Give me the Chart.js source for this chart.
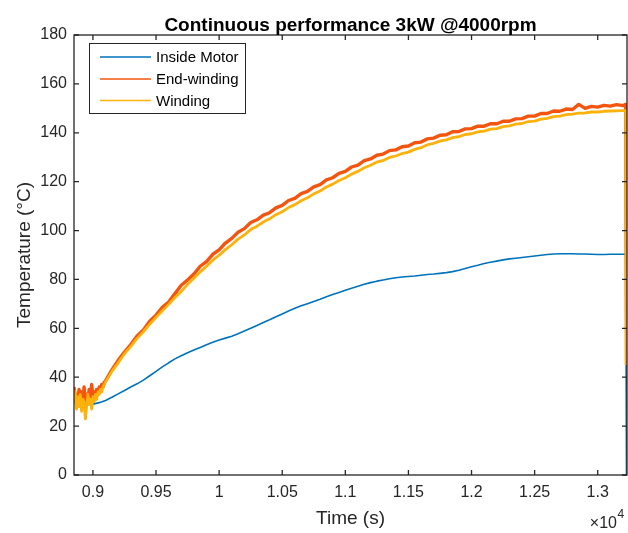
<!DOCTYPE html>
<html>
<head>
<meta charset="utf-8">
<script src="https://cdn.jsdelivr.net/npm/chart.js@4.4.1/dist/chart.umd.min.js"></script>
<style>
  html, body { margin: 0; padding: 0; background: #ffffff; }
  #wrap { width: 628px; height: 533px; }
</style>
</head>
<body>
<div id="wrap"><canvas id="c" width="628" height="533"></canvas></div>
<script>
// ---------------- DATA ----------------
const chartTitle = 'Continuous performance 3kW @4000rpm';
const xAxisTitle = 'Time (s)';
const yAxisTitle = 'Temperature (°C)';
const seriesNames = ['Inside Motor', 'End-winding', 'Winding'];

const xTickValues = [9000, 9500, 10000, 10500, 11000, 11500, 12000, 12500, 13000];
const xTickLabels = ['0.9', '0.95', '1', '1.05', '1.1', '1.15', '1.2', '1.25', '1.3'];
const yTickValues = [0, 20, 40, 60, 80, 100, 120, 140, 160, 180];
const yTickLabels = ['0', '20', '40', '60', '80', '100', '120', '140', '160', '180'];

// time (s) for winding sensors
const timeWinding = [
  8850, 8860, 8870, 8880, 8890, 8900, 8910, 8920, 8930, 8940, 8950, 8960, 8970, 8980, 8990,
  9000, 9010, 9020, 9030, 9040, 9050, 9060, 9070, 9080, 9090, 9100,
  9150, 9200, 9250, 9300, 9350, 9400, 9450, 9500, 9550, 9600, 9650, 9700, 9750, 9800, 9850, 9900, 9950,
  10000, 10050, 10100, 10150, 10200, 10250, 10300, 10350, 10400, 10450, 10500, 10550, 10600, 10650, 10700, 10750, 10800, 10850, 10900, 10950,
  11000, 11050, 11100, 11150, 11200, 11250, 11300, 11350, 11400, 11450, 11500, 11550, 11600, 11650, 11700, 11750, 11800, 11850, 11900, 11950,
  12000, 12050, 12100, 12150, 12200, 12250, 12300, 12350, 12400, 12450, 12500, 12550, 12600, 12650, 12700, 12750, 12800, 12850, 12900, 12950,
  13000, 13050, 13100, 13150, 13200, 13222, 13228
];
const endWinding = [
  36, 30, 33, 29, 35, 31, 34, 30, 36, 29, 33, 30, 35, 31, 37,
  32, 34, 31, 35, 33, 36, 34, 37, 36, 38, 38.5,
  43.0, 46.9, 50.3, 53.4, 56.9, 59.3, 62.9, 65.4, 68.6, 70.8, 74.2, 77.6, 79.8, 82.2, 85.4, 87.3, 90.3,
  92.1, 94.9, 96.8, 99.3, 100.8, 103.3, 104.4, 106.3, 107.3, 109.3, 110.3, 112.3, 113.2, 115.1, 116.0, 117.9, 118.8, 120.7, 121.6, 123.4,
  124.2, 126.0, 126.8, 128.6, 129.3, 130.8, 131.3, 132.7, 133.0, 134.3, 134.6, 135.9, 136.2, 137.5, 137.8, 139.0, 139.2, 140.4, 140.5, 141.6,
  141.7, 142.7, 142.7, 143.7, 143.7, 144.7, 144.7, 145.7, 145.8, 146.8, 146.8, 147.9, 147.9, 148.9, 148.8, 149.7, 149.5, 151.6, 150.0, 150.8,
  150.5, 151.2, 150.9, 151.5, 151.1, 151.6, 45
];
const winding = [
  29, 34, 27, 32, 28, 33, 26, 31, 30, 23, 28, 33, 29, 31, 27,
  32, 30, 33, 31, 34, 33, 35, 34, 36, 37, 38,
  42.4, 45.9, 49.6, 52.6, 55.9, 58.6, 61.7, 64.5, 67.2, 69.8, 72.6, 75.1, 78.0, 80.5, 83.1, 85.4, 87.9,
  89.9, 92.2, 94.2, 96.5, 98.2, 100.4, 101.8, 103.5, 104.8, 106.5, 107.7, 109.4, 110.6, 112.2, 113.4, 115.0, 116.2, 117.8, 119.0, 120.5,
  121.6, 123.1, 124.2, 125.7, 126.7, 128.0, 128.7, 129.9, 130.5, 131.5, 132.1, 133.2, 133.9, 135.1, 135.7, 136.6, 137.1, 138.0, 138.4, 139.3,
  139.6, 140.4, 140.7, 141.5, 141.7, 142.5, 142.8, 143.5, 143.8, 144.6, 144.8, 145.6, 145.9, 146.6, 146.8, 147.4, 147.6, 148.0, 148.1, 148.5,
  148.5, 148.8, 148.9, 149.0, 149.1, 149.1, 45
];

// time (s) for inside motor sensor
const timeMotor = [
  8850, 8900, 8950, 9000, 9050, 9100, 9150, 9200, 9250, 9300, 9350, 9400, 9450, 9500, 9550, 9600, 9650, 9700, 9750, 9800, 9850, 9900, 9950,
  10000, 10050, 10100, 10150, 10200, 10250, 10300, 10350, 10400, 10450, 10500, 10550, 10600, 10650, 10700, 10750, 10800, 10850, 10900, 10950,
  11000, 11050, 11100, 11150, 11200, 11250, 11300, 11350, 11400, 11450, 11500, 11550, 11600, 11650, 11700, 11750, 11800, 11850, 11900, 11950,
  12000, 12050, 12100, 12150, 12200, 12250, 12300, 12350, 12400, 12450, 12500, 12550, 12600, 12650, 12700, 12750, 12800, 12850, 12900, 12950,
  13000, 13050, 13100, 13150, 13200, 13222, 13228
];
const insideMotor = [
  29.5, 29, 28.8, 29, 29.6, 30.5, 31.8, 33.2, 34.6, 36, 37.3, 38.8, 40.6, 42.4, 44.2, 45.9, 47.5, 48.8, 50, 51.1, 52.2, 53.3, 54.3,
  55.2, 56, 56.8, 57.8, 58.9, 60, 61.2, 62.4, 63.5, 64.7, 65.9, 67.1, 68.2, 69.2, 70.1, 71, 71.9, 72.9, 73.8, 74.7,
  75.6, 76.4, 77.2, 78, 78.7, 79.3, 79.8, 80.3, 80.7, 81, 81.2, 81.4, 81.7, 82, 82.2, 82.5, 82.8, 83.2, 83.8, 84.5,
  85.2, 85.8, 86.5, 87, 87.5, 88, 88.4, 88.7, 89, 89.3, 89.6, 89.9, 90.2, 90.4, 90.5, 90.5, 90.5, 90.4, 90.4, 90.3,
  90.2, 90.2, 90.3, 90.3, 90.3, 90.3, 0
];

// ---------------- STYLE ----------------
const FONT = "'Liberation Sans', Arial, Helvetica, sans-serif";
const AXIS_COLOR = '#262626';
const colors = ['#0072BD', '#F4540E', '#FDB10B'];

function pts(xs, ys) { return xs.map((x, i) => ({ x: x, y: ys[i] })); }

const matlabPlugin = {
  id: 'matlabAxes',
  afterDatasetsDraw(chart) {
    const ctx = chart.ctx;
    const a = chart.chartArea;
    const xs = chart.scales.x, ys = chart.scales.y;
    ctx.save();
    // box
    ctx.strokeStyle = AXIS_COLOR;
    ctx.lineWidth = 1.3;
    ctx.strokeRect(a.left, a.top, a.right - a.left, a.bottom - a.top);
    // inward ticks
    const tl = 5;
    ctx.beginPath();
    xTickValues.forEach(v => {
      const px = xs.getPixelForValue(v);
      ctx.moveTo(px, a.bottom); ctx.lineTo(px, a.bottom - tl);
      ctx.moveTo(px, a.top); ctx.lineTo(px, a.top + tl);
    });
    yTickValues.forEach(v => {
      const py = ys.getPixelForValue(v);
      ctx.moveTo(a.left, py); ctx.lineTo(a.left + tl, py);
      ctx.moveTo(a.right, py); ctx.lineTo(a.right - tl, py);
    });
    ctx.stroke();

    // legend
    const lx = 89.5, ly = 43.5, lw = 156, lh = 70;
    ctx.fillStyle = '#ffffff';
    ctx.fillRect(lx, ly, lw, lh);
    ctx.strokeStyle = '#262626';
    ctx.lineWidth = 1;
    ctx.strokeRect(lx, ly, lw, lh);
    const rows = [57, 79, 100.5];
    ctx.font = '15px ' + FONT;
    ctx.textAlign = 'left';
    ctx.textBaseline = 'middle';
    seriesNames.forEach((n, i) => {
      ctx.strokeStyle = colors[i];
      ctx.lineWidth = 1.3;
      ctx.beginPath();
      ctx.moveTo(100, rows[i]); ctx.lineTo(151, rows[i]);
      ctx.stroke();
      ctx.fillStyle = '#000000';
      ctx.fillText(n, 156, rows[i] + 1);
    });

    // title
    ctx.fillStyle = '#000000';
    ctx.textAlign = 'center';
    ctx.textBaseline = 'alphabetic';
    ctx.font = 'bold 19px ' + FONT;
    ctx.fillText(chartTitle, (a.left + a.right) / 2, 31);

    // axis titles
    ctx.fillStyle = AXIS_COLOR;
    ctx.font = '19px ' + FONT;
    ctx.textBaseline = 'middle';
    ctx.fillText(xAxisTitle, (a.left + a.right) / 2, 519);
    ctx.save();
    ctx.translate(25, (a.top + a.bottom) / 2);
    ctx.rotate(-Math.PI / 2);
    ctx.fillText(yAxisTitle, 0, 0);
    ctx.restore();

    // exponent
    ctx.textAlign = 'right';
    ctx.textBaseline = 'alphabetic';
    ctx.font = '16px ' + FONT;
    ctx.fillText('\u00d710', 617, 528);
    ctx.textAlign = 'left';
    ctx.font = '12px ' + FONT;
    ctx.fillText('4', 617.5, 518);
    ctx.restore();
  }
};

new Chart(document.getElementById('c'), {
  type: 'line',
  data: {
    datasets: [
      { label: seriesNames[0], data: pts(timeMotor, insideMotor), borderColor: colors[0], borderWidth: 1.6, order: 3 },
      { label: seriesNames[1], data: pts(timeWinding, endWinding), borderColor: colors[1], borderWidth: 3.4, order: 2 },
      { label: seriesNames[2], data: pts(timeWinding, winding), borderColor: colors[2], borderWidth: 2.8, order: 1 }
    ]
  },
  options: {
    responsive: false,
    animation: false,
    devicePixelRatio: 1,
    elements: { point: { radius: 0 }, line: { tension: 0, fill: false, borderJoinStyle: 'round' } },
    layout: { padding: { top: 35, right: 1, left: 0, bottom: 0 } },
    plugins: { legend: { display: false }, tooltip: { enabled: false }, title: { display: false } },
    scales: {
      x: {
        type: 'linear', min: 8850, max: 13232,
        grid: { display: false, drawTicks: false },
        border: { display: false },
        afterBuildTicks: s => { s.ticks = xTickValues.map(v => ({ value: v })); },
        afterFit: s => { s.height = 58; },
        ticks: {
          padding: 8, color: AXIS_COLOR, font: { family: FONT, size: 16 }, maxRotation: 0, autoSkip: false,
          callback: (v) => { const i = xTickValues.indexOf(v); return i >= 0 ? xTickLabels[i] : ''; }
        }
      },
      y: {
        type: 'linear', min: 0, max: 180,
        grid: { display: false, drawTicks: false },
        border: { display: false },
        afterBuildTicks: s => { s.ticks = yTickValues.map(v => ({ value: v })); },
        afterFit: s => { s.width = 74; },
        ticks: {
          padding: 7, color: AXIS_COLOR, font: { family: FONT, size: 16 }, autoSkip: false,
          callback: (v) => { const i = yTickValues.indexOf(v); return i >= 0 ? yTickLabels[i] : ''; }
        }
      }
    }
  },
  plugins: [matlabPlugin]
});
</script>
</body>
</html>
